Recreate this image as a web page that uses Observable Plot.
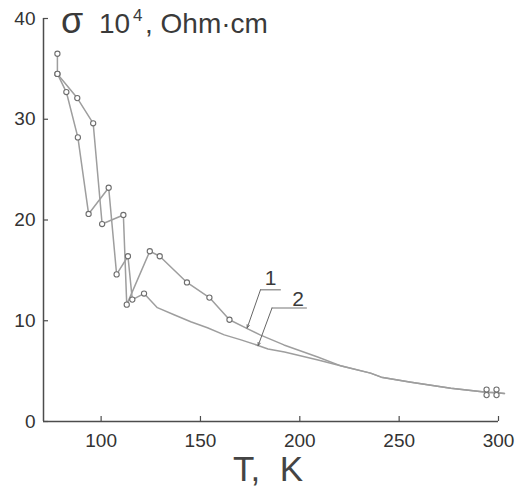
<!DOCTYPE html>
<html>
<head>
<meta charset="utf-8">
<script src="https://cdn.jsdelivr.net/npm/d3@7"></script>
<script src="https://cdn.jsdelivr.net/npm/@observablehq/plot@0.6"></script>
<style>
  html, body { margin: 0; padding: 0; background: #fff; }
  svg { display: block; }
</style>
</head>
<body>
<div id="chart"></div>
<script>
// Curve 1: measured points (open circles), then its smooth high-temperature part
const t1 = [78, 78, 88, 96, 100.5, 111.2, 112.9, 124.5, 129.5, 143.2, 154.5, 164.6];
const s1 = [36.5, 34.5, 32.1, 29.6, 19.6, 20.5, 11.6, 16.9, 16.4, 13.8, 12.3, 10.1];
const t1Tail = [173.8, 180, 192, 209, 221];
const s1Tail = [9.2, 8.6, 7.6, 6.4, 5.5];

// Curve 2: measured points (open circles), then its smooth part
const t2 = [78, 82.5, 88.3, 93.7, 103.8, 107.8, 113.5, 115.7, 121.6];
const s2 = [34.5, 32.7, 28.2, 20.6, 23.2, 14.6, 16.4, 12.1, 12.7];
const t2Tail = [128.3, 136.7, 145.1, 153.5, 162, 170.4, 179.7, 184, 192.3, 209.2, 221];
const s2Tail = [11.3, 10.6, 9.9, 9.3, 8.6, 8.1, 7.5, 7.2, 6.9, 6.1, 5.5];

// Common run of both curves above ~220 K
const tCommon = [235.6, 241, 256, 276, 294, 299, 303];
const sCommon = [4.8, 4.4, 3.9, 3.3, 2.9, 2.85, 2.78];

// Last measured points near room temperature
const tEnd = [294, 294, 299, 299];
const sEnd = [3.17, 2.62, 3.17, 2.62];

// Axis ticks
const xTicks = [100, 150, 200, 250, 300];
const yTicks = [0, 10, 20, 30, 40];

// Curve labels and their leaders
const curveLabels = ["1", "2"];
const labelX = [185.3, 199.1];
const labelY = [14.25, 12.1];
const underX1 = [180.2, 186.0];
const underX2 = [190.7, 203.8];
const underY = [13.07, 11.26];
const tipX = [173.5, 179.0];
const tipY = [9.28, 7.52];

const zip = (ts, ss) => ts.map((t, i) => ({T: t, S: ss[i]}));

const line1 = [...zip(t1, s1), ...zip(t1Tail, s1Tail), ...zip(tCommon, sCommon)];
const line2 = [...zip(t2, s2), ...zip(t2Tail, s2Tail), ...zip(tCommon, sCommon)];
const dots = [...zip(t1, s1), ...zip(t2, s2), ...zip(tEnd, sEnd)];
const labels = curveLabels.map((k, i) => ({
  k, x: labelX[i], y: labelY[i], ux1: underX1[i], ux2: underX2[i], uy: underY[i], tx: tipX[i], ty: tipY[i]
}));

const W = 520, H = 494;
const mL = 43, mR = 22, mT = 18, mB = 73;
const frameW = W - mL - mR, frameH = H - mT - mB;

const lineColor = "#9e9e9e";
const axisColor = "#4d4d4d";
const font = "'Liberation Sans', Arial, sans-serif";

const svg = Plot.plot({
  width: W,
  height: H,
  marginLeft: mL,
  marginRight: mR,
  marginTop: mT,
  marginBottom: mB,
  style: {fontFamily: font, fontSize: "19px", color: "#333", background: "#fff"},
  x: {domain: [71, 300]},
  y: {domain: [0, 40]},
  marks: [
    // axis lines
    Plot.ruleY([0], {x1: 71, x2: 300, stroke: axisColor, strokeWidth: 1.5}),
    Plot.ruleX([71], {y1: 0, y2: 40, stroke: axisColor, strokeWidth: 1.5}),
    // inward tick marks
    Plot.tickY(yTicks, {y: d => d, insetRight: frameW - 5, stroke: axisColor, strokeWidth: 1.2}),
    Plot.tickX(xTicks, {x: d => d, insetTop: frameH - 5, stroke: axisColor, strokeWidth: 1.2}),
    Plot.axisY(yTicks, {tickSize: 0, tickPadding: 8, label: null, fill: "#333"}),
    Plot.axisX(xTicks, {tickSize: 0, tickPadding: 12, label: null, fill: "#333"}),
    // curves
    Plot.line(line1, {x: "T", y: "S", stroke: lineColor, strokeWidth: 1.5, clip: false}),
    Plot.line(line2, {x: "T", y: "S", stroke: lineColor, strokeWidth: 1.5, clip: false}),
    Plot.dot(dots, {x: "T", y: "S", r: 2.6, fill: "#fff", stroke: "#6e6e6e", strokeWidth: 1.1}),
    // curve labels with leaders
    Plot.arrow(labels, {x1: "ux1", y1: "uy", x2: "tx", y2: "ty", stroke: "#666", strokeWidth: 1, headLength: 5, headAngle: 40}),
    Plot.ruleY(labels, {y: "uy", x1: "ux1", x2: "ux2", stroke: "#777", strokeWidth: 1.1}),
    Plot.text(labels, {x: "x", y: "y", text: "k", fontSize: 21, fill: "#3a3a3a"})
  ]
});

const root = d3.select(svg);

// y-axis quantity and unit
const yl = root.append("text")
  .attr("y", 33)
  .attr("fill", "#3a3a3a")
  .attr("text-anchor", "start")
  .attr("font-family", font);
yl.append("tspan").attr("x", 61).attr("font-size", 36).text("σ");
yl.append("tspan").attr("x", 99).attr("font-size", 28).text("10");
yl.append("tspan").attr("x", 133).attr("dy", -12).attr("font-size", 17).text("4");
yl.append("tspan").attr("x", 145).attr("dy", 12).attr("font-size", 28).text(", Ohm·cm");

// x-axis quantity and unit
root.append("text")
  .attr("x", 268)
  .attr("y", 481)
  .attr("text-anchor", "middle")
  .attr("fill", "#444")
  .attr("font-family", font)
  .attr("font-size", 35)
  .text("T,\u00a0\u00a0K");

document.getElementById("chart").append(svg);
</script>
</body>
</html>
